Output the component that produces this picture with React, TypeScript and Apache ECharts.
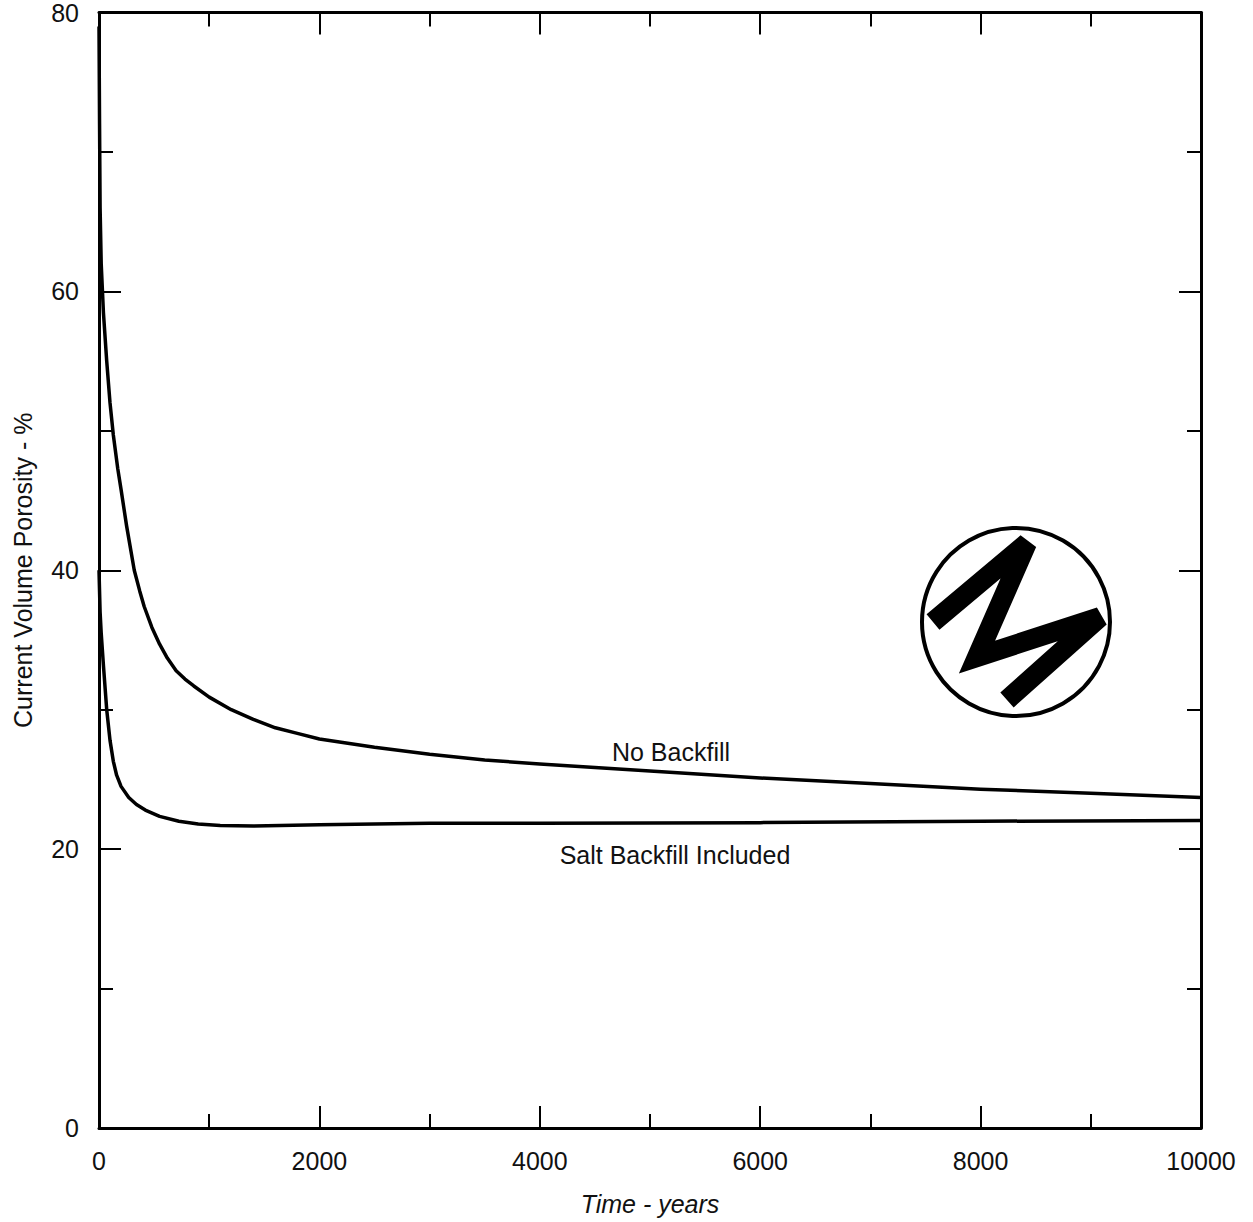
import React, { useEffect, useRef } from "react";
import * as echarts from "echarts";

// Time in years and current volume porosity (%)
const noBackfillYears = [0, 5, 10, 20, 40, 70, 100, 130, 170, 200, 250, 320, 370, 410, 480, 550, 620, 700, 780, 860, 1000, 1200, 1400, 1600, 1800, 2000, 2500, 3000, 3500, 4000, 5000, 6000, 7000, 8000, 9000, 10000];
const noBackfillPorosity = [79, 72, 66, 62, 58.5, 55, 52, 49.7, 47.3, 45.8, 43.2, 40, 38.5, 37.4, 35.9, 34.7, 33.7, 32.8, 32.2, 31.7, 30.9, 30.0, 29.3, 28.7, 28.3, 27.9, 27.3, 26.8, 26.4, 26.1, 25.6, 25.1, 24.7, 24.3, 24.0, 23.7];

const saltYears = [0, 10, 20, 40, 70, 100, 130, 160, 200, 270, 340, 420, 550, 725, 900, 1100, 1400, 2000, 3000, 4000, 6000, 8000, 10000];
const saltPorosity = [40, 37, 35.5, 33.2, 30, 27.8, 26.3, 25.3, 24.5, 23.7, 23.2, 22.8, 22.35, 22.0, 21.8, 21.7, 21.65, 21.75, 21.85, 21.85, 21.9, 22.0, 22.05];

const xTicks = { min: 0, max: 10000, interval: 2000 };
const yTicks = { min: 0, max: 80, interval: 20 };

const curveLabels = [
  { text: "No Backfill", x: 671, y: 752 },
  { text: "Salt Backfill Included", x: 675, y: 855 },
];

const FONT = "'Liberation Sans', Arial, Helvetica, sans-serif";

export default function App() {
  const ref = useRef<HTMLDivElement>(null);

  useEffect(() => {
    if (!ref.current) return;
    const chart = echarts.init(ref.current, undefined, { renderer: "svg" });

    const axisLine = { show: true, onZero: false, lineStyle: { color: "#000", width: 3 } };
    const axisTick = { show: true, inside: true, length: 22, lineStyle: { color: "#000", width: 2 } };
    const minorTick = { show: true, splitNumber: 2, length: 14, lineStyle: { color: "#000", width: 2 } };
    const label = { fontSize: 25, margin: 20, color: "#111", fontFamily: FONT, formatter: (v: number) => String(v) };

    const xBase = { type: "value", ...xTicks, axisLine, axisTick, minorTick, splitLine: { show: false } };
    const yBase = { type: "value", ...yTicks, axisLine, axisTick, minorTick, splitLine: { show: false } };

    chart.setOption({
      animation: false,
      backgroundColor: "#fff",
      grid: { left: 99, right: 52, top: 11, bottom: 94, containLabel: false },
      xAxis: [
        {
          ...xBase,
          position: "bottom",
          axisLabel: label,
          name: "Time - years",
          nameLocation: "middle",
          nameGap: 63,
          nameTextStyle: { fontSize: 25, fontStyle: "italic", color: "#111", fontFamily: FONT },
        },
        { ...xBase, position: "top", axisLabel: { show: false } },
      ],
      yAxis: [
        {
          ...yBase,
          position: "left",
          axisLabel: label,
          name: "Current Volume Porosity - %",
          nameLocation: "middle",
          nameGap: 64,
          nameTextStyle: { fontSize: 25, color: "#111", fontFamily: FONT },
        },
        { ...yBase, position: "right", axisLabel: { show: false } },
      ],
      series: [
        {
          name: "No Backfill",
          type: "line",
          data: noBackfillYears.map((t, i) => [t, noBackfillPorosity[i]]),
          showSymbol: false,
          smooth: false,
          lineStyle: { color: "#000", width: 3.5, join: "round" },
          clip: true,
        },
        {
          name: "Salt Backfill Included",
          type: "line",
          data: saltYears.map((t, i) => [t, saltPorosity[i]]),
          showSymbol: false,
          smooth: false,
          lineStyle: { color: "#000", width: 3.5, join: "round" },
          clip: true,
        },
      ],
      graphic: [
        ...curveLabels.map((l) => ({
          type: "text",
          x: l.x,
          y: l.y,
          style: {
            text: l.text,
            fontSize: 25,
            fontFamily: FONT,
            fill: "#111",
            align: "center",
            verticalAlign: "middle",
          },
        })),
        {
          type: "circle",
          shape: { cx: 1016, cy: 622, r: 94 },
          style: { fill: "none", stroke: "#000", lineWidth: 4 },
        },
        {
          type: "polyline",
          shape: {
            points: [
              [933, 622],
              [1027, 543],
              [977, 657],
              [1100, 617],
              [1007, 700],
            ],
          },
          style: { fill: "none", stroke: "#000", lineWidth: 20, lineJoin: "miter", miterLimit: 10, lineCap: "butt" },
        },
      ],
    });

    return () => chart.dispose();
  }, []);

  return (
    <div
      ref={ref}
      style={{ position: "fixed", left: 0, top: 0, width: 1253, height: 1222, background: "#fff" }}
    />
  );
}
